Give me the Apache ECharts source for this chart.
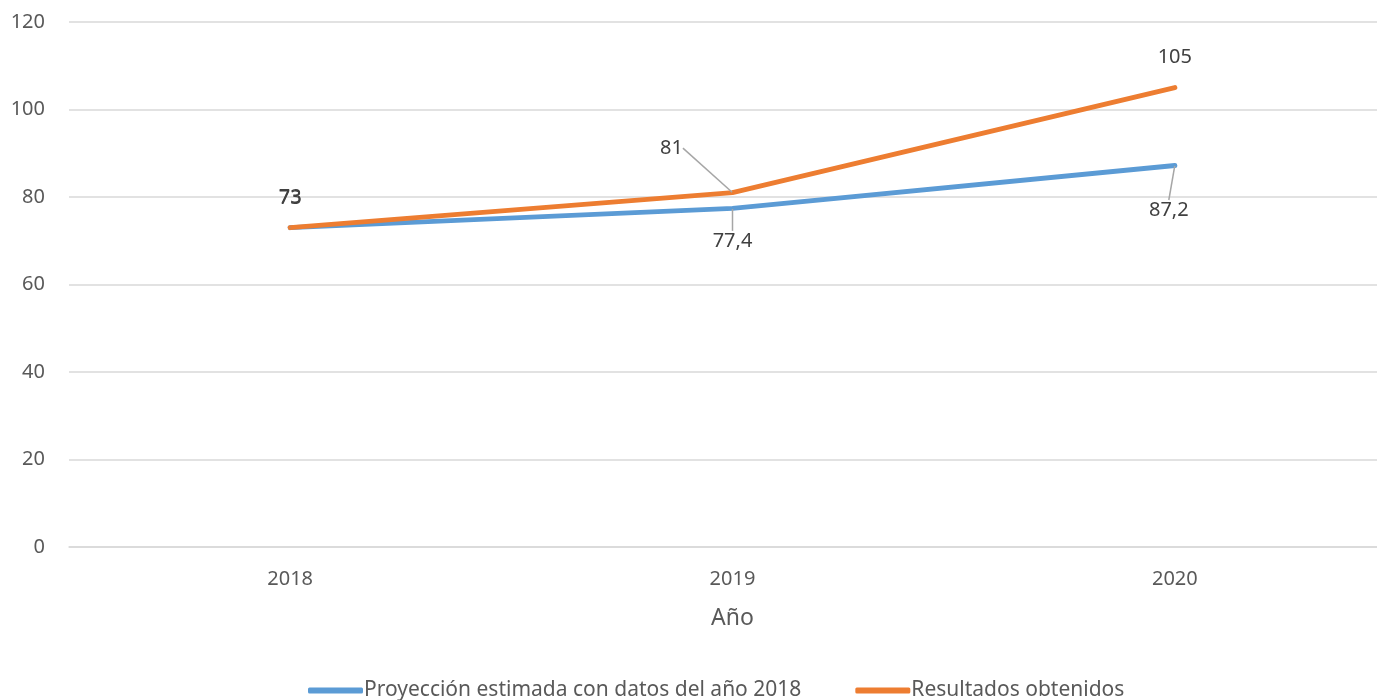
<!DOCTYPE html>
<html>
<head>
<meta charset="utf-8">
<script src="https://cdn.jsdelivr.net/npm/echarts@6/dist/echarts.min.js"></script>
<style>
    html, body { margin: 0; padding: 0; background: #fff; overflow: hidden; }
    /* el gráfico original está recortado por la derecha */
    #main { width: 1396px; height: 700px; }
</style>
</head>
<body>
<div id="main"></div>
<script type="text/javascript">
    // datos del gráfico
    var years = ['2018', '2019', '2020'];
    var proyeccion = [73, 77.4, 87.2];
    var resultados = [73, 81, 105];
    var seriesNames = ['Proyección estimada con datos del año 2018', 'Resultados obtenidos'];

    var fontFam = '"Noto Sans", "Open Sans", sans-serif';
    var myChart = echarts.init(document.getElementById('main'));

    // formato con coma decimal
    function fmt(p) {
        return String(p.value).replace('.', ',');
    }

    // línea guía solo en algunas etiquetas
    function withGuides(values, guides) {
        return values.map(function (v, i) {
            return { value: v, labelLine: { show: guides[i] } };
        });
    }

    var guideStyle = { color: '#a6a6a6', width: 1.5 };

    option = {
        backgroundColor: '#fff',
        animation: false,
        textStyle: { fontFamily: fontFam },
        grid: { left: 69, right: 0, top: 22, bottom: 153 },
        legend: {
            bottom: -6,
            left: 303,
            icon: 'roundRect',
            itemWidth: 55,
            itemHeight: 6,
            itemGap: 54,
            textStyle: { color: '#595959', fontSize: 21, padding: [0, 0, 0, -4] },
            data: seriesNames
        },
        xAxis: {
            type: 'category',
            data: years,
            name: 'Año',
            nameLocation: 'middle',
            nameGap: 60,
            nameTextStyle: { color: '#595959', fontSize: 23 },
            axisLine: { lineStyle: { color: '#d9d9d9', width: 1.5 } },
            axisTick: { show: false },
            axisLabel: { color: '#595959', fontSize: 20, margin: 22 }
        },
        yAxis: {
            type: 'value',
            min: 0,
            max: 120,
            interval: 20,
            axisLine: { show: false },
            axisTick: { show: false },
            axisLabel: { color: '#595959', fontSize: 20, margin: 24 },
            splitLine: { lineStyle: { color: '#d9d9d9', width: 1.5 } }
        },
        series: [
            {
                name: seriesNames[0],
                type: 'line',
                data: withGuides(proyeccion, [false, true, true]),
                symbol: 'circle',
                symbolSize: 1,
                lineStyle: { color: '#5b9bd5', width: 5, cap: 'round' },
                itemStyle: { color: '#5b9bd5' },
                label: {
                    show: true,
                    position: 'bottom',
                    distance: 22,
                    color: '#404040',
                    fontSize: 20,
                    formatter: fmt
                },
                labelLine: { lineStyle: guideStyle },
                labelLayout: function (p) {
                    if (p.dataIndex === 0) return { dy: -62 };
                    if (p.dataIndex === 2) return { dx: -6, dy: 12 };
                    return {};
                }
            },
            {
                name: seriesNames[1],
                type: 'line',
                data: withGuides(resultados, [false, true, false]),
                symbol: 'circle',
                symbolSize: 1,
                lineStyle: { color: '#ed7d31', width: 5, cap: 'round' },
                itemStyle: { color: '#ed7d31' },
                label: {
                    show: true,
                    position: 'top',
                    distance: 20,
                    color: '#404040',
                    fontSize: 20,
                    formatter: fmt
                },
                labelLine: { lineStyle: guideStyle },
                labelLayout: function (p) {
                    if (p.dataIndex === 1) return { dx: -61, dy: -14 };
                    return {};
                }
            }
        ]
    };

    myChart.setOption(option);
</script>
</body>
</html>
